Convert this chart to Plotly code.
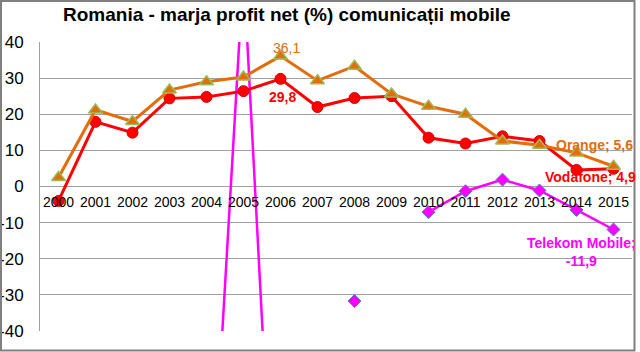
import plotly.graph_objects as go

years = list(range(2000, 2016))
year_labels = [str(y) for y in years]

orange = [2.5, 21.2, 18.0, 26.7, 29.0, 30.3, 36.1, 29.3, 33.3, 25.6, 22.2, 20.0, 12.6, 11.4, 9.3, 5.6]
vodafone = [-4.0, 17.9, 14.9, 24.4, 24.8, 26.4, 29.8, 22.0, 24.5, 25.0, 13.5, 11.9, 13.9, 12.6, 4.6, 4.9]
telekom = [None, None, None, None, -115.0, 60.0, -134.0, None, -31.7, None, -7.1, -1.3, 1.9, -1.1, -6.5, -11.9]

y_ticks = [-40, -30, -20, -10, 0, 10, 20, 30, 40]

FONT = "Liberation Sans, Arial, sans-serif"
C_OR = "#E46C0A"
C_RED = "#FF0000"
C_MAG = "#FF00FF"

fig = go.Figure()
fig.add_trace(go.Scatter(
    x=years, y=telekom, mode="lines+markers", name="Telekom Mobile",
    line=dict(color=C_MAG, width=2.5),
    marker=dict(symbol="diamond", size=10, color=C_MAG, line=dict(color="#4F81BD", width=1)),
    connectgaps=False,
))
fig.add_trace(go.Scatter(
    x=years, y=vodafone, mode="lines+markers", name="Vodafone",
    line=dict(color=C_RED, width=3),
    marker=dict(symbol="circle", size=11, color=C_RED, line=dict(color="#D00000", width=1)),
))
fig.add_trace(go.Scatter(
    x=years, y=orange, mode="lines+markers", name="Orange",
    line=dict(color=C_OR, width=3),
    marker=dict(symbol="triangle-up", size=12, color=C_OR, line=dict(color="#9BBB59", width=1.5)),
))

def lab(x, y, text, color, xs, ys, bold=True):
    fig.add_annotation(
        x=x, y=y, xref="x", yref="y", text=(f"<b>{text}</b>" if bold else text),
        showarrow=False, xanchor="center", yanchor="middle",
        xshift=xs, yshift=ys, font=dict(family=FONT, size=14, color=color),
    )

fmt = lambda v: f"{v:.1f}".replace(".", ",")
lab(2006, orange[6], fmt(orange[6]), C_OR, 6, 8, bold=False)
lab(2006, vodafone[6], fmt(vodafone[6]), C_RED, 2, -18)
lab(2015, orange[15], "Orange; " + fmt(orange[15]), C_OR, -19, 21)
lab(2015, vodafone[15], "Vodafone; " + fmt(vodafone[15]), C_RED, -23, -8)
lab(2015, telekom[15], "Telekom Mobile;<br>" + fmt(telekom[15]), C_MAG, -32, -23)

# outer chart border
fig.add_shape(type="rect", xref="paper", yref="paper",
              x0=(1 - 40) / 592, x1=(634.5 - 40) / 592,
              y0=(331 - 350.5) / 289, y1=(331 - 1) / 289,
              line=dict(color="#808080", width=2), fillcolor="rgba(0,0,0,0)", layer="above")

fig.update_layout(
    width=640, height=352,
    margin=dict(l=40, r=8, t=42, b=21),
    paper_bgcolor="white", plot_bgcolor="white",
    showlegend=False,
    font=dict(family=FONT, color="black"),
    title=dict(
        text="<b>Romania - marja profit net (%) comunicații mobile</b>",
        font=dict(family=FONT, size=19, color="black"),
        x=63 / 640, xref="container", xanchor="left",
        y=1 - 14 / 352, yref="container", yanchor="middle",
    ),
    xaxis=dict(
        range=[1999.5, 2015.5], tickvals=years, ticktext=year_labels,
        showgrid=False, zeroline=False, showline=False, ticks="",
        anchor="free", position=0.5, automargin=False,
        ticklabelstandoff=5,
        tickfont=dict(family=FONT, size=14, color="black"),
    ),
    yaxis=dict(
        range=[-40, 40], tickvals=y_ticks, ticktext=[str(v) for v in y_ticks],
        showgrid=True, gridcolor="#A0A0A0", gridwidth=1,
        zeroline=True, zerolinecolor="#A0A0A0", zerolinewidth=1,
        showline=True, linecolor="#A0A0A0", linewidth=1,
        ticks="", ticklabelstandoff=12, automargin=False,
        tickfont=dict(family=FONT, size=17, color="black"),
    ),
)

fig.write_html("out.html")
